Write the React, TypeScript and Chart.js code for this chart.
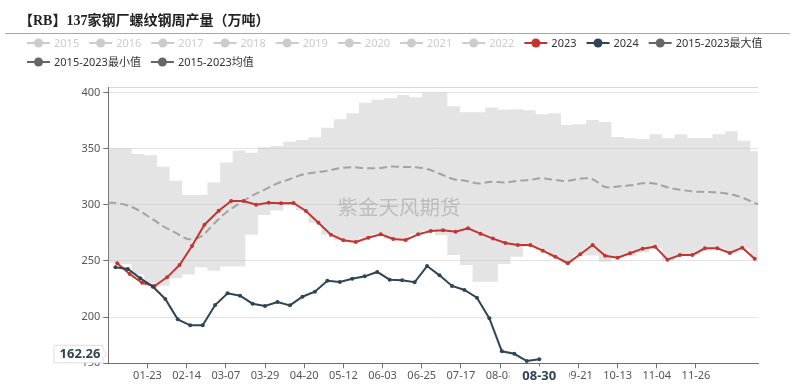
import React, { useEffect, useRef } from "react";
import { Chart, registerables } from "chart.js";

Chart.register(...registerables);

// ---------- text ----------
const TITLE = "【RB】137家钢厂螺纹钢周产量（万吨）";
const WATERMARK = "紫金天风期货";
const INACTIVE_YEARS = ["2015", "2016", "2017", "2018", "2019", "2020", "2021", "2022"];
const NAME_2023 = "2023";
const NAME_2024 = "2024";
const NAME_MAX = "2015-2023最大值";
const NAME_MIN = "2015-2023最小值";
const NAME_MEAN = "2015-2023均值";

// ---------- axes ----------
const X_TICK_LABELS = ["01-23", "02-14", "03-07", "03-29", "04-20", "05-12", "06-03", "06-25", "07-17", "08-08", "08-30", "09-21", "10-13", "11-04", "11-26"];
const AXIS_YEAR = 2024;
const AXIS_DAYS = 365;
const Y_TICKS = [200, 250, 300, 350, 400];
const Y_MIN = 158.7;
const Y_MAX = 405;
const Y_MIN_LABEL = "150";

// ---------- series ----------
const START_2023 = "2023-01-06";
const VALUES_2023 = [247.9, 238.4, 230.6, 227.7, 235.4, 246.4, 263.4, 282.4, 294.9, 303.5, 303.5, 300.3, 302.0, 301.5, 301.8, 294.6, 284.2, 273.5, 268.5, 267.0, 270.8, 273.8, 269.6, 268.8, 273.8, 276.8, 277.4, 276.2, 279.2, 274.4, 270.0, 266.0, 264.3, 264.3, 259.2, 253.8, 248.0, 256.0, 264.3, 254.7, 253.0, 256.9, 261.0, 262.8, 251.2, 255.4, 255.4, 261.3, 261.3, 257.1, 261.9, 252.0];

const START_2024 = "2024-01-05";
const VALUES_2024 = [244.4, 242.9, 234.5, 227.1, 216.1, 197.9, 192.6, 192.6, 210.7, 221.2, 219.0, 211.9, 209.8, 213.4, 210.4, 218.1, 222.6, 232.4, 231.3, 234.2, 236.3, 240.2, 233.3, 232.8, 231.0, 245.5, 237.2, 227.7, 224.1, 217.3, 198.8, 169.4, 167.2, 160.7, 162.26];

// 2015-2023 statistics, one value per week slot (52 slots)
const BAND_FIRST_DAY = 2.5;
const BAND_STEP_DAYS = 7.09;
const MAX_2015_2023 = [350.6, 350.6, 345.5, 344.3, 334.2, 321.5, 309.0, 309.0, 320.0, 337.8, 348.5, 346.7, 351.5, 352.7, 356.3, 358.0, 360.4, 369.0, 376.5, 381.9, 391.3, 393.8, 395.2, 398.2, 396.2, 400.3, 400.3, 388.0, 382.8, 382.8, 387.0, 385.0, 385.5, 384.5, 381.0, 381.9, 371.4, 372.0, 375.9, 374.0, 360.7, 359.5, 358.8, 363.1, 359.5, 363.2, 359.8, 359.8, 363.0, 365.8, 357.2, 348.0];
const MIN_2015_2023 = [248.5, 247.0, 238.0, 230.0, 228.0, 234.5, 238.0, 244.4, 241.4, 245.0, 245.0, 273.5, 291.0, 295.0, 300.0, 295.0, 284.0, 273.5, 268.5, 267.0, 270.8, 273.8, 269.6, 268.8, 273.8, 276.8, 273.0, 255.4, 246.4, 231.5, 231.5, 247.3, 253.8, 262.8, 259.5, 253.5, 248.0, 255.0, 255.0, 249.4, 253.5, 254.7, 257.5, 261.5, 250.5, 255.4, 255.5, 259.0, 261.3, 257.0, 261.0, 252.0];
const MEAN_2015_2023 = [302.0, 300.2, 295.5, 288.5, 281.0, 275.0, 269.5, 272.0, 283.0, 293.5, 301.0, 308.0, 313.5, 319.0, 323.0, 327.0, 329.0, 330.5, 332.8, 333.7, 332.8, 332.8, 334.2, 333.9, 333.7, 331.8, 327.4, 323.0, 321.4, 319.2, 320.8, 320.0, 321.5, 322.3, 323.8, 322.3, 321.5, 323.5, 323.0, 316.0, 316.5, 317.5, 319.3, 319.0, 315.5, 313.5, 312.0, 311.6, 311.0, 309.5, 306.0, 301.0];

// ---------- colours ----------
const RED = "#c23531";
const NAVY = "#2f4554";
const STAT_GREY = "#666666";
const INACTIVE = "#cccccc";
const AXIS_COLOR = "#6E7079";
const LABEL_COLOR = "#555555";
const FONT = '"Noto Sans", "Noto Sans CJK SC", sans-serif';

// ---------- helpers ----------
const dayOfAxis = (m: number, d: number) =>
  (Date.UTC(AXIS_YEAR, m, d) - Date.UTC(AXIS_YEAR, 0, 1)) / 86400000;

const weeklyDays = (start: string, n: number) => {
  const [y, m, d] = start.split("-").map(Number);
  return Array.from({ length: n }, (_, i) => {
    const dt = new Date(Date.UTC(y, m - 1, d + 7 * i));
    return dayOfAxis(dt.getUTCMonth(), dt.getUTCDate());
  });
};

const labelToDay = (s: string) => {
  const [m, d] = s.split("-").map(Number);
  return dayOfAxis(m - 1, d);
};

const X_TICK_DAYS = X_TICK_LABELS.map(labelToDay);

const toPoints = (days: number[], vals: number[]) => vals.map((v, i) => ({ x: days[i], y: v }));

const bandDays = MAX_2015_2023.map((_, j) => BAND_FIRST_DAY + BAND_STEP_DAYS * j);
// stepped band reaches the two ends of the axis
const bandPoints = (vals: number[]) => [
  { x: 0, y: vals[0] },
  ...toPoints(bandDays, vals),
  { x: AXIS_DAYS, y: vals[vals.length - 1] },
];

const days2023 = weeklyDays(START_2023, VALUES_2023.length);
const days2024 = weeklyDays(START_2024, VALUES_2024.length);

// ---------- decoration plugin ----------
const decorPlugin = {
  id: "decor",
  afterDatasetsDraw(chart: any) {
    const ctx = chart.ctx;
    ctx.save();
    ctx.font = `20.5px "Noto Sans CJK SC", sans-serif`;
    ctx.fillStyle = "rgba(140,140,140,0.45)";
    ctx.textAlign = "center";
    ctx.textBaseline = "middle";
    ctx.fillText(WATERMARK, 399, 207.5);
    ctx.restore();
  },
  afterDraw(chart: any) {
    const ctx = chart.ctx;
    ctx.save();
    // title
    ctx.font = `bold 14px "Liberation Serif", "Noto Sans CJK SC", serif`;
    ctx.fillStyle = "#222";
    ctx.textAlign = "left";
    ctx.textBaseline = "middle";
    ctx.fillText(TITLE, 19, 21);
    ctx.strokeStyle = "#a8a8a8";
    ctx.lineWidth = 1;
    ctx.beginPath();
    ctx.moveTo(5, 33.5);
    ctx.lineTo(790, 33.5);
    ctx.stroke();

    // legend
    ctx.font = `11px ${FONT}`;
    const drawItem = (x: number, y: number, color: string, textColor: string, label: string) => {
      ctx.strokeStyle = color;
      ctx.lineWidth = 2;
      ctx.beginPath();
      ctx.moveTo(x, y);
      ctx.lineTo(x + 23, y);
      ctx.stroke();
      ctx.fillStyle = color;
      ctx.beginPath();
      ctx.arc(x + 11.5, y, 4.5, 0, Math.PI * 2);
      ctx.fill();
      ctx.fillStyle = textColor;
      ctx.textAlign = "left";
      ctx.textBaseline = "middle";
      ctx.fillText(label, x + 27, y + 0.5);
      return x + 27 + ctx.measureText(label).width + 10;
    };
    let x = 27;
    INACTIVE_YEARS.forEach((yr) => {
      x = drawItem(x, 43, INACTIVE, INACTIVE, yr);
    });
    x = drawItem(x, 43, RED, "#333", NAME_2023);
    x = drawItem(x, 43, NAVY, "#333", NAME_2024);
    drawItem(x, 43, STAT_GREY, "#333", NAME_MAX);
    x = 27;
    x = drawItem(x, 62, STAT_GREY, "#333", NAME_MIN);
    drawItem(x, 62, STAT_GREY, "#333", NAME_MEAN);

    // axis pointer labels at the latest 2024 point
    const xs = chart.scales.x;
    const ys = chart.scales.y;
    const lastIdx = VALUES_2024.length - 1;
    const px = xs.getPixelForValue(days2024[lastIdx]);
    const py = ys.getPixelForValue(VALUES_2024[lastIdx]);
    const d = new Date(Date.UTC(AXIS_YEAR, 0, 1 + days2024[lastIdx]));
    const xLabel = `${String(d.getUTCMonth() + 1).padStart(2, "0")}-${String(d.getUTCDate()).padStart(2, "0")}`;

    ctx.font = `bold 13px ${FONT}`;
    const w = ctx.measureText(xLabel).width;
    ctx.fillStyle = "#ffffff";
    ctx.fillRect(px - w / 2 - 13, xs.bottom - 19.5 + 20.7, w + 26, 20);
    ctx.fillRect(px - w / 2 - 13, chart.chartArea.bottom + 3, w + 26, 20);
    ctx.fillStyle = NAVY;
    ctx.textAlign = "center";
    ctx.textBaseline = "middle";
    ctx.fillText(xLabel, px, chart.chartArea.bottom + 12.5);

    // y pointer label
    const yLabel = VALUES_2024[lastIdx].toFixed(2);
    const h = 17.5;
    const cy = Math.min(py, chart.chartArea.bottom - h / 2 - 0.5);
    const left = 54;
    const right = 103;
    const tip = 106.5;
    ctx.beginPath();
    ctx.moveTo(left, cy - h / 2);
    ctx.lineTo(right, cy - h / 2);
    ctx.lineTo(right, cy - 4);
    ctx.lineTo(tip, cy);
    ctx.lineTo(right, cy + 4);
    ctx.lineTo(right, cy + h / 2);
    ctx.lineTo(left, cy + h / 2);
    ctx.closePath();
    ctx.fillStyle = "#ffffff";
    ctx.fill();
    ctx.strokeStyle = "#dddddd";
    ctx.lineWidth = 1;
    ctx.stroke();
    ctx.fillStyle = NAVY;
    ctx.textAlign = "center";
    ctx.fillText(yLabel, (left + right) / 2 + 1.5, cy + 0.5);
    ctx.restore();
  },
};

export default function App() {
  const ref = useRef<HTMLCanvasElement>(null);

  useEffect(() => {
    document.body.style.margin = "0";
    Chart.defaults.font.family = FONT;
    const chart = new Chart(ref.current as HTMLCanvasElement, {
      type: "line",
      data: {
        datasets: [
          {
            label: NAME_2024,
            data: toPoints(days2024, VALUES_2024),
            borderColor: NAVY,
            backgroundColor: NAVY,
            borderWidth: 2,
            pointRadius: 2,
            pointBorderWidth: 0,
            pointBackgroundColor: NAVY,
            fill: false,
            order: 0,
          },
          {
            label: NAME_2023,
            data: toPoints(days2023, VALUES_2023),
            borderColor: RED,
            backgroundColor: RED,
            borderWidth: 2,
            pointRadius: 2,
            pointBorderWidth: 0,
            pointBackgroundColor: RED,
            fill: false,
            order: 1,
          },
          {
            label: NAME_MEAN,
            data: bandPoints(MEAN_2015_2023),
            borderColor: "#a3a3a3",
            borderWidth: 2,
            borderDash: [8, 4],
            pointRadius: 0,
            tension: 0.35,
            fill: false,
            order: 2,
          },
          {
            label: NAME_MAX,
            data: bandPoints(MAX_2015_2023),
            borderWidth: 0,
            borderColor: "rgba(0,0,0,0)",
            backgroundColor: "rgba(190,190,190,0.42)",
            pointRadius: 0,
            stepped: "middle",
            fill: { target: 4 },
            order: 3,
          },
          {
            label: NAME_MIN,
            data: bandPoints(MIN_2015_2023),
            borderWidth: 0,
            borderColor: "rgba(0,0,0,0)",
            pointRadius: 0,
            stepped: "middle",
            fill: false,
            order: 4,
          },
        ],
      },
      options: {
        responsive: false,
        animation: false,
        devicePixelRatio: 1,
        events: [],
        layout: { padding: { left: 8, right: 39.7, top: 87.3, bottom: 0 } },
        plugins: {
          legend: { display: false },
          tooltip: { enabled: false },
          title: { display: false },
        },
        scales: {
          x: {
            type: "linear",
            min: 0,
            max: AXIS_DAYS,
            afterBuildTicks: (s: any) => {
              s.ticks = X_TICK_DAYS.map((v) => ({ value: v }));
            },
            afterFit: (s: any) => {
              s.height = 20.7;
            },
            ticks: {
              autoSkip: false,
              maxRotation: 0,
              minRotation: 0,
              padding: 1,
              color: LABEL_COLOR,
              font: { size: 11, family: FONT },
              callback: (v: any) => {
                const i = X_TICK_DAYS.indexOf(Number(v));
                return i >= 0 ? X_TICK_LABELS[i] : "";
              },
            },
            grid: { drawOnChartArea: false, drawTicks: true, tickLength: 5, tickColor: AXIS_COLOR },
            border: { display: true, color: AXIS_COLOR, width: 1 },
          },
          y: {
            type: "linear",
            min: Y_MIN,
            max: Y_MAX,
            afterBuildTicks: (s: any) => {
              s.ticks = [Y_MIN, ...Y_TICKS, Y_MAX].map((v) => ({ value: v }));
            },
            afterFit: (s: any) => {
              s.width = 100.3;
            },
            ticks: {
              padding: 3,
              color: LABEL_COLOR,
              font: { size: 11, family: FONT },
              callback: (v: any) => {
                const n = Number(v);
                if (n === Y_MIN) return Y_MIN_LABEL;
                if (n === Y_MAX) return "";
                return String(n);
              },
            },
            grid: {
              drawTicks: true,
              tickLength: 5,
              color: (c: any) =>
                c.tick && c.tick.value === Y_MAX ? "#d9d9d9" : c.tick && c.tick.value === Y_MIN ? "rgba(0,0,0,0)" : "#e3e3e3",
              tickColor: (c: any) => (c.tick && c.tick.value === Y_MAX ? "rgba(0,0,0,0)" : AXIS_COLOR),
            },
            border: { display: true, color: AXIS_COLOR, width: 1 },
          },
        },
      },
      plugins: [decorPlugin],
    } as any);
    return () => chart.destroy();
  }, []);

  return (
    <div style={{ width: 798, height: 384 }}>
      <canvas ref={ref} width={798} height={384} style={{ display: "block" }} />
    </div>
  );
}
